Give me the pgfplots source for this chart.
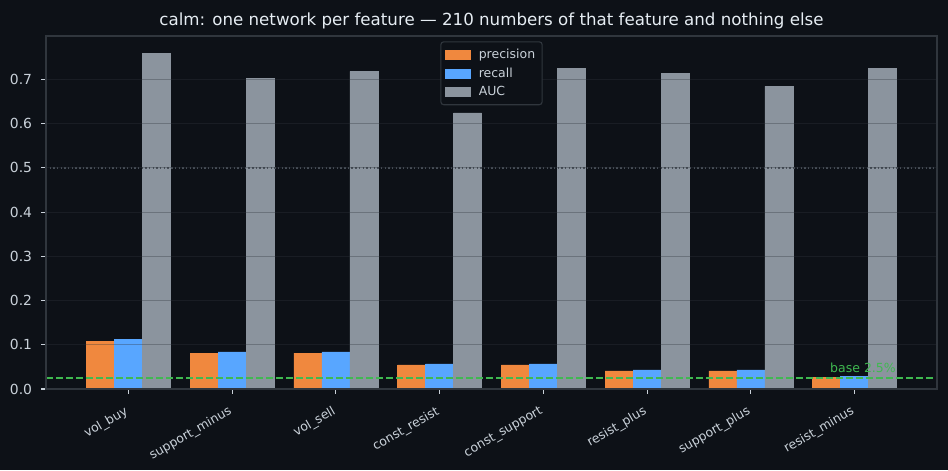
\documentclass[border=0pt]{standalone}
\usepackage{pgfplots}
\pgfplotsset{compat=1.18}
\usepackage{pgfplotstable}
\usepackage{fontspec}
\setmainfont{DejaVu Sans}
\definecolor{bgC}{HTML}{0D1117}
\definecolor{txtC}{HTML}{C9D1D9}
\definecolor{titleC}{HTML}{E6EDF3}
\definecolor{spineC}{HTML}{30363D}
\definecolor{orangeC}{HTML}{F0883E}
\definecolor{blueC}{HTML}{58A6FF}
\definecolor{grayC}{HTML}{8B949E}
\definecolor{greenC}{HTML}{3FB950}
\definecolor{dotC}{HTML}{484F58}
\pgfplotstableread{
x prec rec auc
0 0.108 0.113 0.758
1 0.081 0.084 0.702
2 0.081 0.084 0.718
3 0.0545 0.057 0.624
4 0.0545 0.057 0.725
5 0.041 0.043 0.713
6 0.041 0.043 0.684
7 0.027 0.029 0.725
}\datatab
\begin{document}
\begin{tikzpicture}
\fill[bgC] (0,0) rectangle (682.56pt,338.4pt);
\useasboundingbox (0,0) rectangle (682.56pt,338.4pt);
\begin{axis}[
  at={(33.12pt,58.32pt)}, anchor=south west,
  scale only axis, width=641.52pt, height=254.16pt,
  xmin=-0.795, xmax=7.795, ymin=0, ymax=0.798,
  xtick={0,1,2,3,4,5,6,7},
  xticklabels={vol\_buy,support\_minus,vol\_sell,const\_resist,const\_support,resist\_plus,support\_plus,resist\_minus},
  ytick={0,0.1,0.2,0.3,0.4,0.5,0.6,0.7},
  /pgf/number format/assume math mode=true,
  yticklabel style={/pgf/number format/.cd, fixed, fixed zerofill, precision=1, /tikz/.cd, font=\fontsize{10}{12}\selectfont, text=txtC, xshift=-3pt},
  xticklabel style={rotate=30, anchor=north east, font=\fontsize{9}{11}\selectfont, text=txtC, xshift=-3.5pt, yshift=-2pt},
  tick pos=left, tick align=outside, major tick length=3.5pt,
  tick style={draw=txtC, line width=0.8pt},
  axis line style={draw=spineC, line width=0.8pt},
  ymajorgrids, grid style={draw=spineC, opacity=0.35, line width=0.8pt},
  axis on top,
  title={calm: one network per feature — 210 numbers of that feature and nothing else},
  title style={at={(0.5,1)}, anchor=base, yshift=1.8pt, font=\fontsize{12}{14}\selectfont, text=titleC},
  legend style={at={(0.5,0.985)}, anchor=north, fill=bgC, draw=spineC, line width=0.8pt, rounded corners=2pt, text=txtC, font=\fontsize{9}{11}\selectfont, row sep=1.2pt, inner xsep=3pt, inner ysep=3pt,
    /tikz/every odd column/.append style={column sep=4pt}},
  legend cell align=left,
]
\addplot[ybar, bar width=0.27, bar shift=-0.27, fill=orangeC, draw=orangeC, line width=0.3pt,
  legend image code/.code={\fill[orangeC, sharp corners] (0pt,-3.2pt) rectangle (18pt,3.2pt);}] table[x=x,y=prec] {\datatab};
\addlegendentry{precision}
\addplot[ybar, bar width=0.27, bar shift=0, fill=blueC, draw=blueC, line width=0.3pt,
  legend image code/.code={\fill[blueC, sharp corners] (0pt,-3.2pt) rectangle (18pt,3.2pt);}] table[x=x,y=rec] {\datatab};
\addlegendentry{recall}
\addplot[ybar, bar width=0.27, bar shift=0.27, fill=grayC, draw=grayC, line width=0.3pt,
  legend image code/.code={\fill[grayC, sharp corners] (0pt,-3.2pt) rectangle (18pt,3.2pt);}] table[x=x,y=auc] {\datatab};
\addlegendentry{AUC}
\addplot[dotC, line width=1pt, dash pattern=on 1pt off 1.65pt, forget plot] coordinates {(-0.795,0.5) (7.795,0.5)};
\addplot[greenC, line width=1.4pt, dash pattern=on 4.9pt off 2.3pt, forget plot] coordinates {(-0.795,0.025) (7.795,0.025)};
\node[anchor=base east, inner sep=0pt, text=greenC, font=\fontsize{9}{11}\selectfont, yshift=3.6pt] at (axis cs:7.40,0.025) {base 2.5\%};
\end{axis}
\end{tikzpicture}
\end{document}
